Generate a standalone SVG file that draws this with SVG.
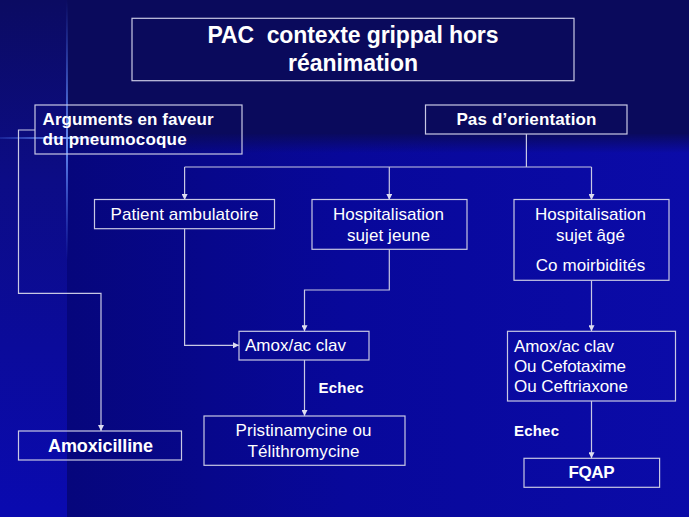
<svg xmlns="http://www.w3.org/2000/svg" width="689" height="517" viewBox="0 0 689 517">
<defs>
  <linearGradient id="gLeft" x1="0" y1="0" x2="0" y2="1">
    <stop offset="0" stop-color="#0b0b62"/>
    <stop offset="0.35" stop-color="#0c0c86"/>
    <stop offset="1" stop-color="#0a0ab0"/>
  </linearGradient>
  <linearGradient id="gLow" x1="0" y1="0" x2="1" y2="0">
    <stop offset="0" stop-color="#06067c"/>
    <stop offset="0.45" stop-color="#08089a"/>
    <stop offset="1" stop-color="#0b0ba8"/>
  </linearGradient>
  <linearGradient id="gFade" x1="0" y1="0" x2="0" y2="1">
    <stop offset="0" stop-color="#0a0a5c" stop-opacity="1"/>
    <stop offset="1" stop-color="#0a0a5c" stop-opacity="0"/>
  </linearGradient>
  <linearGradient id="gV" x1="0" y1="0" x2="0" y2="1">
    <stop offset="0" stop-color="#4f7dff" stop-opacity="0"/>
    <stop offset="0.55" stop-color="#6f9aff" stop-opacity="0.9"/>
    <stop offset="1" stop-color="#4f7dff" stop-opacity="0"/>
  </linearGradient>
  <linearGradient id="gH" x1="0" y1="0" x2="1" y2="0">
    <stop offset="0" stop-color="#4f7dff" stop-opacity="0.2"/>
    <stop offset="0.55" stop-color="#7fa5ff" stop-opacity="0.9"/>
    <stop offset="1" stop-color="#4f7dff" stop-opacity="0"/>
  </linearGradient>
  <marker id="arr" viewBox="0 0 6 6" refX="6" refY="3" markerWidth="6" markerHeight="6" markerUnits="userSpaceOnUse" orient="auto">
    <path d="M0,0 L6,3 L0,6 Z" fill="#dcdcf0"/>
  </marker>
</defs>
<style>
  .box { fill: none; stroke: #c8c8e4; stroke-width: 1.2; }
  .ln { fill: none; stroke: #c8c8e4; stroke-width: 1.2; }
  .t { font-family: "Liberation Sans", Arial, sans-serif; fill: #ffffff; font-size: 17px; }
  .b { font-weight: bold; }
  .c { text-anchor: middle; }
  .s15 { font-size: 15px; }
  .s18 { font-size: 18px; }
  .s23 { font-size: 23px; }
</style>
<!-- background -->
<rect x="0" y="0" width="689" height="517" fill="#0a0a5c"/>
<rect x="67" y="134" width="622" height="383" fill="url(#gLow)"/>
<rect x="67" y="133" width="622" height="20" fill="url(#gFade)"/>
<rect x="0" y="0" width="67" height="517" fill="url(#gLeft)"/>
<rect x="66" y="0" width="2" height="260" fill="url(#gV)"/>
<rect x="0" y="137" width="120" height="2" fill="url(#gH)"/>

<g id="connectors">
  <polyline class="ln" points="526.4,134 526.4,167"/>
  <polyline class="ln" points="184.6,167 591.5,167"/>
  <polyline class="ln" points="184.6,167 184.6,200" marker-end="url(#arr)"/>
  <polyline class="ln" points="389.3,167 389.3,200" marker-end="url(#arr)"/>
  <polyline class="ln" points="591.5,167 591.5,200" marker-end="url(#arr)"/>
  <polyline class="ln" points="35,130 18.5,130 18.5,293.3 101,293.3 101,431" marker-end="url(#arr)"/>
  <polyline class="ln" points="184.6,228.7 184.6,345.3 239,345.3" marker-end="url(#arr)"/>
  <polyline class="ln" points="389.3,249.3 389.3,290 304.5,290 304.5,331.3" marker-end="url(#arr)"/>
  <polyline class="ln" points="304.5,360 304.5,416" marker-end="url(#arr)"/>
  <polyline class="ln" points="591.5,280.3 591.5,331.3" marker-end="url(#arr)"/>
  <polyline class="ln" points="591.5,401 591.5,458.3" marker-end="url(#arr)"/>
  <text class="t b s15" x="318.6" y="393" textLength="45">Echec</text>
  <text class="t b s15" x="514" y="436" textLength="45">Echec</text>
</g>

<g id="title">
  <rect class="box" x="132" y="18.3" width="442" height="62.4"/>
  <text class="t b c s23" x="353" y="43" xml:space="preserve" textLength="291">PAC  contexte grippal hors</text>
  <text class="t b c s23" x="353" y="71" textLength="130">réanimation</text>
</g>

<g id="arguments">
  <rect class="box" x="35" y="105" width="207" height="49"/>
  <text class="t b" x="42.6" y="124.5" textLength="171">Arguments en faveur</text>
  <text class="t b" x="42.6" y="145" textLength="144">du pneumocoque</text>
</g>

<g id="pas-orientation">
  <rect class="box" x="425.5" y="105" width="201.5" height="29"/>
  <text class="t b c" x="526.4" y="125" textLength="140">Pas d’orientation</text>
</g>

<g id="patient-ambulatoire">
  <rect class="box" x="94.5" y="199.5" width="180" height="29.2"/>
  <text class="t c" x="184.5" y="220" textLength="148">Patient ambulatoire</text>
</g>

<g id="hosp-jeune">
  <rect class="box" x="312" y="199.5" width="155" height="49.8"/>
  <text class="t c" x="388.5" y="220" textLength="111">Hospitalisation</text>
  <text class="t c" x="388.5" y="240.5" textLength="83">sujet jeune</text>
</g>

<g id="hosp-age">
  <rect class="box" x="514" y="199.5" width="155" height="80.8"/>
  <text class="t c" x="590.5" y="220" textLength="111">Hospitalisation</text>
  <text class="t c" x="590.5" y="240.5" textLength="69">sujet âgé</text>
  <text class="t c" x="590.5" y="271" textLength="109.5">Co moirbidités</text>
</g>

<g id="amoxicilline">
  <rect class="box" x="18.5" y="431" width="163" height="29"/>
  <text class="t b c s18" x="100.5" y="451.5" textLength="105">Amoxicilline</text>
</g>

<g id="amox-clav">
  <rect class="box" x="239" y="331.3" width="130" height="28.7"/>
  <text class="t" x="245" y="351" textLength="101">Amox/ac clav</text>
</g>

<g id="pristinamycine">
  <rect class="box" x="204" y="416" width="201" height="49.3"/>
  <text class="t c" x="303.5" y="436" textLength="136">Pristinamycine ou</text>
  <text class="t c" x="303.5" y="456.5" textLength="112">Télithromycine</text>
</g>

<g id="amox-cefo">
  <rect class="box" x="507.5" y="331.3" width="168" height="69.7"/>
  <text class="t" x="514" y="351.5" textLength="100">Amox/ac clav</text>
  <text class="t" x="514" y="371.7" textLength="112">Ou Cefotaxime</text>
  <text class="t" x="514" y="391.7" textLength="114">Ou Ceftriaxone</text>
</g>

<g id="fqap">
  <rect class="box" x="524" y="458.3" width="135.6" height="29"/>
  <text class="t b c" x="591.5" y="477.5" textLength="46">FQAP</text>
</g>
</svg>
